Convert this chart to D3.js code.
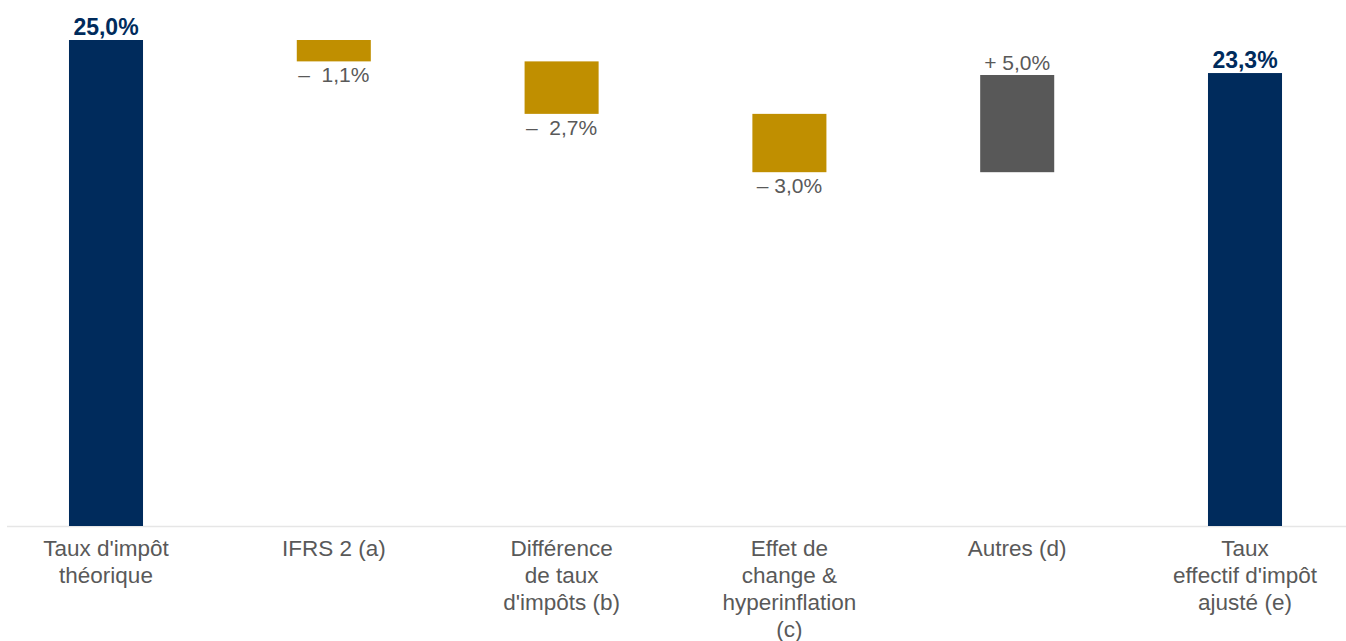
<!DOCTYPE html>
<html>
<head>
<meta charset="utf-8">
<script src="https://cdn.jsdelivr.net/npm/d3@7"></script>
<style>
  html, body { margin: 0; padding: 0; background: #ffffff; }
  svg { display: block; }
</style>
</head>
<body>
<svg id="chart" width="1346" height="641"></svg>
<script>
// Tax-rate bridge: theoretical rate -> adjusted effective rate
const categories = [
  ["Taux d'impôt", "théorique"],
  ["IFRS 2 (a)"],
  ["Différence", "de taux", "d'impôts (b)"],
  ["Effet de", "change &", "hyperinflation", "(c)"],
  ["Autres (d)"],
  ["Taux", "effectif d'impôt", "ajusté (e)"]
];
const values = [25.0, -1.1, -2.7, -3.0, 5.0, 23.3];
const kinds = ["total", "delta", "delta", "delta", "delta", "total"];
const valueLabels = ["25,0%", "\u2013  1,1%", "\u2013  2,7%", "\u2013 3,0%", "+ 5,0%", "23,3%"];

const colors = { total: "#002B5C", down: "#C08F00", up: "#585858" };
const font = "Liberation Sans, Arial, sans-serif";

const svg = d3.select("#chart");
const W = 1346, baseY = 526;

const x = d3.scaleBand()
  .domain(d3.range(categories.length))
  .range([-7.9, 1358.9])
  .paddingInner(0.675)
  .paddingOuter(0.3375);

const y = d3.scaleLinear().domain([0, 25]).range([baseY, 40]);

// Running totals for the floating segments
let running = 0;
const bars = values.map((v, i) => {
  let lo, hi;
  if (kinds[i] === "total") {
    lo = 0; hi = v; running = v;
  } else {
    const start = running;
    running = +(running + v).toFixed(4);
    lo = Math.min(start, running); hi = Math.max(start, running);
  }
  return { i, v, lo, hi, kind: kinds[i] };
});

// Baseline
svg.append("line")
  .attr("x1", 7).attr("x2", W)
  .attr("y1", baseY + 0.5).attr("y2", baseY + 0.5)
  .attr("stroke", "#e6e6e6").attr("stroke-width", 1.5);

svg.append("g").selectAll("rect")
  .data(bars).join("rect")
  .attr("x", d => x(d.i))
  .attr("width", x.bandwidth())
  .attr("y", d => y(d.hi))
  .attr("height", d => y(d.lo) - y(d.hi))
  .attr("fill", d => d.kind === "total" ? colors.total : (d.v < 0 ? colors.down : colors.up));

// Value labels
svg.append("g").selectAll("text")
  .data(bars).join("text")
  .attr("x", d => x(d.i) + x.bandwidth() / 2)
  .attr("y", d => {
    if (d.kind === "total") return y(d.hi) - 5;
    return d.v > 0 ? y(d.hi) - 5 : y(d.lo) + 21;
  })
  .attr("text-anchor", "middle")
  .attr("font-family", font)
  .attr("font-size", d => d.kind === "total" ? 23 : 21)
  .attr("font-weight", d => d.kind === "total" ? "bold" : "normal")
  .attr("fill", d => d.kind === "total" ? colors.total : "#595959")
  .style("white-space", "pre")
  .text(d => valueLabels[d.i]);

// Category labels
const catG = svg.append("g").selectAll("text")
  .data(categories).join("text")
  .attr("x", (d, i) => x(i) + x.bandwidth() / 2)
  .attr("y", 556)
  .attr("text-anchor", "middle")
  .attr("font-family", font)
  .attr("font-size", 22.5)
  .attr("fill", "#595959");

catG.selectAll("tspan")
  .data(d => d).join("tspan")
  .attr("x", function() { return d3.select(this.parentNode).attr("x"); })
  .attr("dy", (d, j) => j === 0 ? 0 : 27)
  .text(d => d);
</script>
</body>
</html>
